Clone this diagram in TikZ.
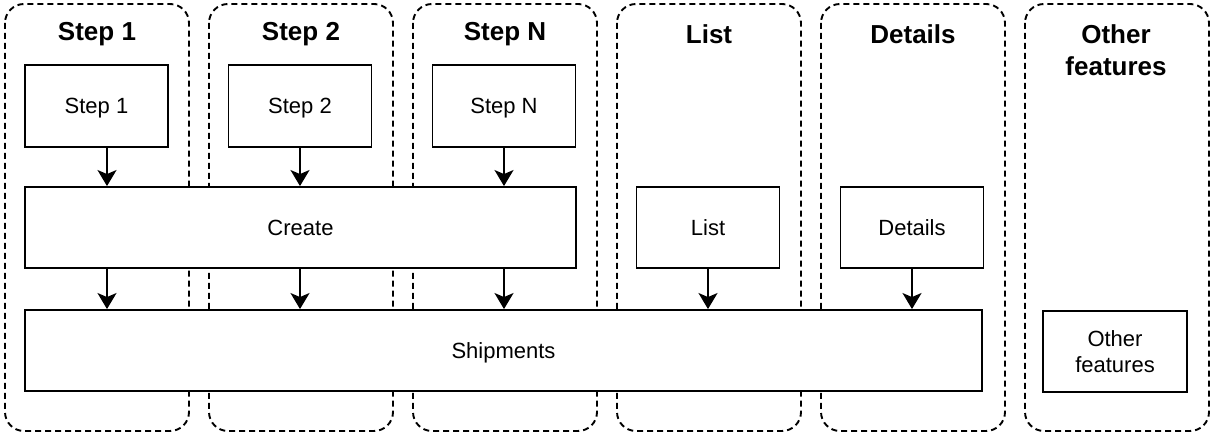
\documentclass[tikz,border=0pt]{standalone}
\usepackage{fontspec}
\setmainfont{Liberation Sans}
\usetikzlibrary{arrows.meta,calc}
\begin{document}
\begin{tikzpicture}[x=1pt,y=-1pt,
  lane/.style={draw, dash pattern=on 6pt off 4pt, line width=1.9pt, rounded corners=19pt},
  box/.style={draw, fill=white, line width=1.9pt, inner sep=0pt, align=center,
    font=\fontsize{22}{26}\selectfont},
  one/.style={text height=15.5pt, text depth=0pt},
  ttl/.style={align=center, font=\fontsize{26}{32}\selectfont\bfseries},
  arr/.style={line width=1.9pt, -{Stealth[length=16pt,width=19pt,inset=4pt]}}]
\useasboundingbox (0,0) rectangle (1211,435);
% lanes
\foreach \i in {0,...,5}{
  \draw[lane] ({5+204*\i},4) rectangle ({189+204*\i},431);
}
% titles
\node[ttl] (t1) at (97,34) {Step 1};
\node[ttl] (t2) at (301,34) {Step 2};
\node[ttl] (t3) at (505,34) {Step N};
\node[ttl] (t4) at (709,34) {List};
\node[ttl] (t5) at (913,34) {Details};
\node[ttl] (t6) at (1116,50) {Other\\features};
% boxes
\node[box, one, minimum width=143pt, minimum height=82pt] (s1) at (96.5,106) {Step 1};
\node[box, one, minimum width=143pt, minimum height=82pt] (s2) at (300,106) {Step 2};
\node[box, one, minimum width=143pt, minimum height=82pt] (sn) at (504,106) {Step N};
\node[box, one, minimum width=551pt, minimum height=81pt] (create) at (300.5,227.5) {Create};
\node[box, one, minimum width=143pt, minimum height=81pt] (list) at (708,227.5) {List};
\node[box, one, minimum width=143pt, minimum height=81pt] (det) at (912,227.5) {Details};
\node[box, one, minimum width=957pt, minimum height=81pt] (ship) at (503.5,350.5) {Shipments};
\node[box, minimum width=144pt, minimum height=81pt] (other) at (1115,351.5) {Other\\features};
% arrows
\coordinate (a1) at (107,0);
\draw[arr] (s1.south -| a1) -- (create.north -| a1);
\draw[arr] (s2.south) -- (create.north -| s2.south);
\draw[arr] (sn.south) -- (create.north -| sn.south);
\draw[arr] (create.south -| a1) -- (ship.north -| a1);
\draw[arr] (create.south -| s2.south) -- (ship.north -| s2.south);
\draw[arr] (create.south -| sn.south) -- (ship.north -| sn.south);
\draw[arr] (list.south) -- (ship.north -| list.south);
\draw[arr] (det.south) -- (ship.north -| det.south);
\end{tikzpicture}
\end{document}
